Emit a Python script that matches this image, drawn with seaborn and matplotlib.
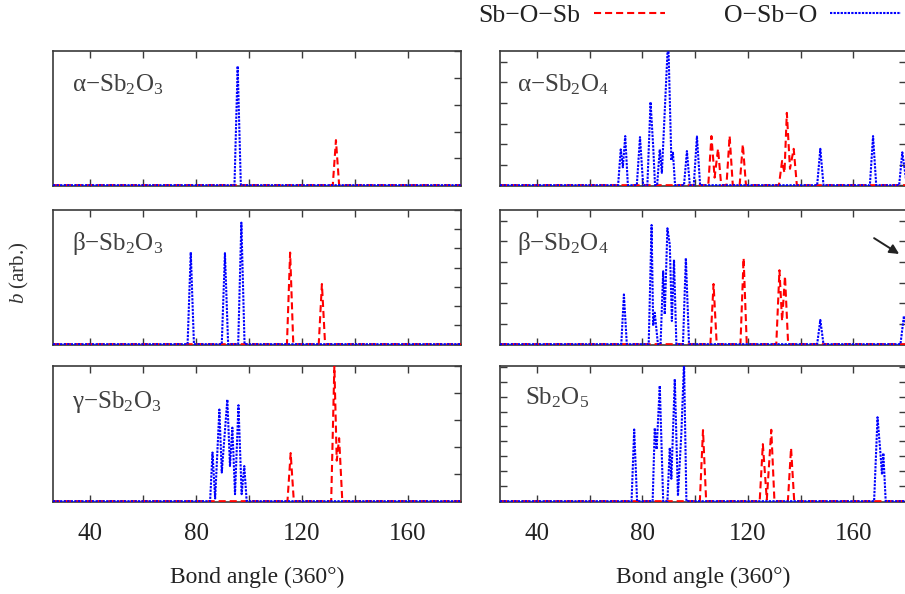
import numpy as np
import pandas as pd
import matplotlib
matplotlib.use("Agg")
import matplotlib.pyplot as plt
from matplotlib.ticker import MultipleLocator, FixedLocator, NullFormatter
import seaborn as sns

# ---------------- data (bond angle in degrees, b in arbitrary units) ----------------
# alpha-Sb2O3
a_sb2o3_oso_x = [26, 94.5, 95.7, 96.9, 180]
a_sb2o3_oso_y = [0, 0, 4.44, 0, 0]
a_sb2o3_sos_x = [26, 131.6, 132.8, 134.0, 180]
a_sb2o3_sos_y = [0, 0, 1.68, 0, 0]

# beta-Sb2O3
b_sb2o3_oso_x = [26, 76.8, 78.0, 79.2, 89.7, 90.9, 92.1, 95.9, 97.1, 98.3, 180]
b_sb2o3_oso_y = [0, 0, 4.80, 0, 0, 4.75, 0, 0, 6.34, 0, 0]
b_sb2o3_sos_x = [26, 114.3, 115.5, 116.7, 126.3, 127.5, 128.7, 180]
b_sb2o3_sos_y = [0, 0, 4.78, 0, 0, 3.14, 0, 0]

# gamma-Sb2O3
g_sb2o3_oso_x = [26, 85.3, 86.2, 87.2, 88.8, 89.7, 91.8, 92.8, 93.7, 94.7, 96.0, 97.2, 98.2, 99.1, 180]
g_sb2o3_oso_y = [0, 0, 1.80, 0.10, 3.39, 1.06, 3.76, 1.30, 2.72, 0.26, 3.55, 0.26, 1.30, 0, 0]
g_sb2o3_sos_x = [26, 114.5, 115.7, 116.9, 131.0, 132.2, 133.1, 134.0, 135.2, 180]
g_sb2o3_sos_y = [0, 0, 1.78, 0, 0, 5.0, 1.5, 2.33, 0, 0]

# alpha-Sb2O4
a_sb2o4_oso_x = [26, 70.8, 71.8, 72.6, 73.5, 74.5, 77.9, 79.1, 80.3, 81.9, 83.1, 84.1, 84.8,
                 85.6, 86.6, 87.4, 89.8, 91.0, 91.6, 92.4, 95.8, 96.9, 98.0, 99.5, 100.7,
                 101.9, 146.3, 147.5, 148.7, 166.3, 167.5, 168.7, 177.4, 178.6, 180]
a_sb2o4_oso_y = [0, 0, 1.74, 0.87, 2.39, 0, 0, 2.34, 0, 0, 4.05, 1.90, 0,
                 0, 1.74, 0.60, 7.20, 1.20, 1.58, 0, 0, 1.66, 0, 0, 2.37,
                 0, 0, 1.77, 0, 0, 2.39, 0, 0, 1.60, 0.3]
a_sb2o4_sos_x = [26, 105.0, 106.2, 107.4, 108.7, 109.9, 111.9, 113.1, 114.3, 116.9, 118.1,
                 119.3, 131.8, 133.0, 133.9, 134.8, 136.0, 137.4, 138.6, 180]
a_sb2o4_sos_y = [0, 0, 2.39, 0.37, 1.77, 0, 0, 2.39, 0, 0, 1.98,
                 0, 0, 1.18, 0.60, 3.52, 0.80, 1.77, 0, 0]

# beta-Sb2O4
b_sb2o4_oso_x = [26, 72.0, 73.0, 74.1, 82.4, 83.5, 84.1, 84.7, 85.9, 86.9, 87.9, 88.5, 89.5,
                 90.4, 91.2, 92.0, 92.9, 95.4, 96.5, 97.7, 146.3, 147.5, 148.7, 177.9, 179.2, 180]
b_sb2o4_oso_y = [0, 0, 2.42, 0, 0, 5.80, 0.90, 1.53, 0, 0, 3.55, 1.45, 5.64,
                 4.84, 1.13, 4.11, 0, 0, 4.19, 0, 0, 1.18, 0, 0, 1.37, 1.0]
b_sb2o4_sos_x = [26, 105.8, 107.0, 108.2, 117.2, 118.4, 119.6, 130.8, 132.0, 133.0, 134.1, 135.3, 180]
b_sb2o4_sos_y = [0, 0, 2.93, 0, 0, 4.19, 0, 0, 3.60, 1.13, 3.31, 0, 0]

# Sb2O5
sb2o5_oso_x = [26, 75.9, 76.9, 78.0, 83.9, 84.7, 85.4, 86.6, 87.9, 89.5, 90.4, 91.0, 92.3,
               93.5, 94.8, 95.8, 96.7, 167.9, 169.2, 170.2, 170.9, 171.4, 172.3, 180]
sb2o5_oso_y = [0, 0, 4.80, 0, 0, 4.90, 3.47, 7.73, 0, 0, 3.58, 1.50, 8.18,
               0.35, 4.58, 9.30, 0, 0, 5.62, 3.44, 1.78, 3.22, 0, 0]
sb2o5_sos_x = [26, 101.8, 103.0, 104.2, 124.5, 125.7, 127.2, 128.9, 130.1, 135.2, 136.4, 137.6, 180]
sb2o5_sos_y = [0, 0, 4.76, 0, 0, 3.82, 0.10, 4.78, 0, 0, 3.56, 0, 0]

panel_labels = [r"α−Sb$_2$O$_3$", r"α−Sb$_2$O$_4$",
                r"β−Sb$_2$O$_3$", r"β−Sb$_2$O$_4$",
                r"γ−Sb$_2$O$_3$", r"Sb$_2$O$_5$"]
panel_ymax = [5.0, 6.53, 7.0, 6.53, 5.0, 9.05]
series_names = ["Sb−O−Sb", "O−Sb−O"]
x_ticks_major = [40, 80, 120, 160]
x_ticks_minor = [60, 100, 140]
x_label = "Bond angle (360°)"
y_label = r"$b$ (arb.)"

panels = [
    (a_sb2o3_sos_x, a_sb2o3_sos_y, a_sb2o3_oso_x, a_sb2o3_oso_y),
    (a_sb2o4_sos_x, a_sb2o4_sos_y, a_sb2o4_oso_x, a_sb2o4_oso_y),
    (b_sb2o3_sos_x, b_sb2o3_sos_y, b_sb2o3_oso_x, b_sb2o3_oso_y),
    (b_sb2o4_sos_x, b_sb2o4_sos_y, b_sb2o4_oso_x, b_sb2o4_oso_y),
    (g_sb2o3_sos_x, g_sb2o3_sos_y, g_sb2o3_oso_x, g_sb2o3_oso_y),
    (sb2o5_sos_x, sb2o5_sos_y, sb2o5_oso_x, sb2o5_oso_y),
]

# ---------------- style ----------------
sns.set_theme(style="ticks")
plt.rcParams["font.family"] = ["Liberation Serif", "DejaVu Serif"]
plt.rcParams["mathtext.fontset"] = "custom"
plt.rcParams["mathtext.rm"] = "Liberation Serif"
plt.rcParams["mathtext.it"] = "Liberation Serif:italic"
plt.rcParams["mathtext.bf"] = "Liberation Serif:bold"

RED = "#ff0000"
BLUE = "#0000ff"
SPINE = "#3a3a3a"
LW = 1.5
red_ls = (0, (3.4, 1.9))
blue_ls = (0, (1.1, 0.6))

fig = plt.figure(figsize=(9.05, 5.94), dpi=100)

col_left = [53 / 905, 500 / 905]
col_width = [408 / 905, 406 / 905]
row_bottom = [1 - 186 / 594, 1 - 345 / 594, 1 - 502 / 594]
row_height = [135 / 594, 135 / 594, 136 / 594]
label_x = [0.047, 0.041, 0.047, 0.041, 0.047, 0.062]
label_y = [0.70, 0.70, 0.70, 0.70, 0.69, 0.72]

axes = []
handles = None
for i, (sx, sy, ox, oy) in enumerate(panels):
    r, c = divmod(i, 2)
    ax = fig.add_axes([col_left[c], row_bottom[r], col_width[c], row_height[r]])
    axes.append(ax)
    sns.lineplot(x=sx, y=sy, ax=ax, color=RED, lw=LW, estimator=None, sort=False, zorder=3)
    l1 = ax.lines[-1]
    l1.set_linestyle(red_ls)
    sns.lineplot(x=ox, y=oy, ax=ax, color=BLUE, lw=LW, estimator=None, sort=False, zorder=3)
    l2 = ax.lines[-1]
    l2.set_linestyle(blue_ls)
    if handles is None:
        handles = [l1, l2]

    ax.set_xlim(26, 180)
    ax.set_ylim(-0.006 * panel_ymax[i], panel_ymax[i])
    ax.xaxis.set_major_locator(FixedLocator(x_ticks_major))
    ax.xaxis.set_minor_locator(FixedLocator(x_ticks_minor))
    ax.yaxis.set_major_locator(MultipleLocator(1))
    ax.yaxis.set_major_formatter(NullFormatter())
    ax.tick_params(axis="both", which="both", direction="in", length=5, width=1.0,
                   color=SPINE, top=True, right=True, left=(c == 1),
                   labelsize=18, pad=15, labelcolor="#222222")
    if r < 2:
        ax.tick_params(axis="x", labelbottom=False)
    for sp in ax.spines.values():
        sp.set_visible(True)
        sp.set_color(SPINE)
        sp.set_linewidth(1.2)
    ax.set_ylabel("")
    ax.set_xlabel("")
    ax.text(label_x[i], label_y[i], panel_labels[i], transform=ax.transAxes,
            fontsize=18, color="#404040", ha="left", va="baseline")
    if r == 2:
        ax.set_xlabel(x_label, fontsize=17, color="#222222", labelpad=16)

# arrow in beta-Sb2O4 panel
axes[3].annotate("", xy=(177.4, 4.39), xytext=(167.9, 5.16),
                 arrowprops=dict(arrowstyle="-|>", color="#222222", lw=1.4,
                                 mutation_scale=14, shrinkA=0, shrinkB=0))

fig.text(0.022, 0.54, y_label, rotation=90, fontsize=15, color="#333333",
         ha="center", va="center")

fig.legend(handles=handles, labels=series_names, ncol=2, markerfirst=False,
           frameon=False, loc="upper right", bbox_to_anchor=(0.9956, 0.993),
           handlelength=2.75, handletextpad=0.52, columnspacing=2.3,
           fontsize=18.5, borderpad=0, borderaxespad=0, labelcolor="#222222")

fig.savefig("out.png", dpi=100)
